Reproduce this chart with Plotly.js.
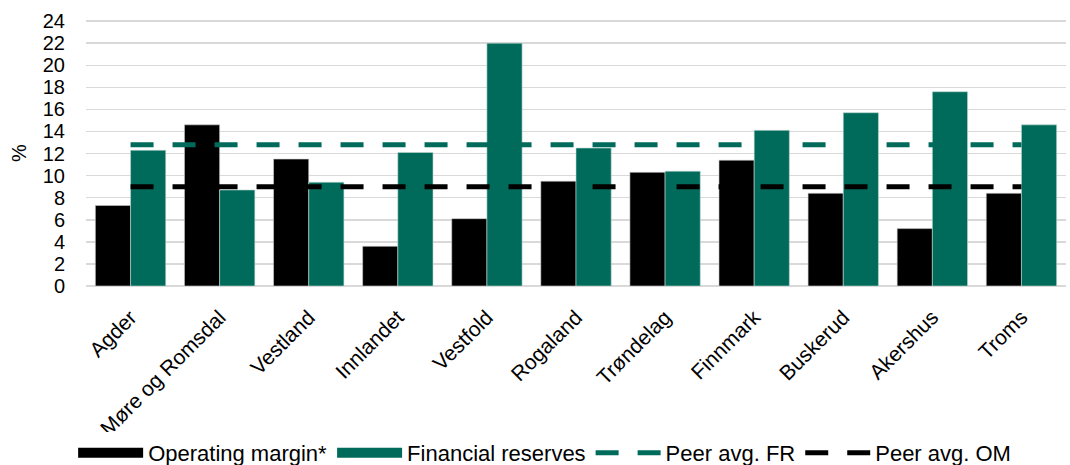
<!DOCTYPE html>
<html>
<head>
<meta charset="utf-8">
<script src="https://cdn.plot.ly/plotly-3.0.1.min.js"></script>
<style>html,body{margin:0;padding:0;background:#fff;}#chart{width:1070px;height:465px;}</style>
</head>
<body>
<div id="chart"></div>
<script>
const categories = ["Agder","Møre og Romsdal","Vestland","Innlandet","Vestfold","Rogaland","Trøndelag","Finnmark","Buskerud","Akershus","Troms"];
const operatingMargin = [7.3, 14.6, 11.5, 3.6, 6.1, 9.5, 10.3, 11.4, 8.4, 5.2, 8.4];
const financialReserves = [12.3, 8.7, 9.4, 12.1, 22.0, 12.5, 10.4, 14.1, 15.7, 17.6, 14.6];
const peerAvgFR = 12.8;
const peerAvgOM = 9.0;
const yTicks = [0,2,4,6,8,10,12,14,16,18,20,22,24];

const BLACK = "#000000";
const TEAL = "#006B5B";
const FONT = "'Liberation Sans', Arial, sans-serif";

const traces = [
  // legend swatches for the bar series
  {type:"scatter", mode:"lines", name:"Operating margin*", x:[null], y:[null],
   line:{color:BLACK, width:14}, legendgroup:"om", showlegend:true},
  {type:"scatter", mode:"lines", name:"Financial reserves", x:[null], y:[null],
   line:{color:TEAL, width:14}, legendgroup:"fr", showlegend:true},
  {type:"bar", name:"Operating margin*", x:categories, y:operatingMargin, showlegend:false,
   legendgroup:"om", marker:{color:BLACK, line:{color:"#cfcfcf", width:0.6}}},
  {type:"bar", name:"Financial reserves", x:categories, y:financialReserves, showlegend:false,
   legendgroup:"fr", marker:{color:TEAL, line:{color:"#bfd8d2", width:0.6}}},
  {type:"scatter", mode:"lines", name:"Peer avg. FR", x:categories, y:categories.map(()=>peerAvgFR),
   line:{color:TEAL, width:5, dash:"23px,19px"}},
  {type:"scatter", mode:"lines", name:"Peer avg. OM", x:categories, y:categories.map(()=>peerAvgOM),
   line:{color:BLACK, width:5, dash:"23px,19px"}}
];

const layout = {
  width:1070, height:465,
  margin:{l:86, r:4, t:20, b:179},
  paper_bgcolor:"#fff", plot_bgcolor:"#fff",
  font:{family:FONT, color:"#000", size:20},
  barmode:"group", bargap:0.21, bargroupgap:0,
  showlegend:true,
  legend:{orientation:"h", xref:"container", yref:"container", x:0.509, xanchor:"center",
          y:0.026, yanchor:"middle", itemwidth:65,
          font:{family:FONT, size:22, color:"#000"}, traceorder:"normal"},
  xaxis:{type:"category", tickangle:-45, tickfont:{family:FONT, size:21, color:"#000"},
         showgrid:false, showline:false, ticks:"", automargin:false, ticklabelstandoff:14},
  yaxis:{range:[0,24.1], tickvals:yTicks, ticktext:yTicks.map(String),
         tickfont:{family:FONT, size:20, color:"#000"}, showgrid:true, gridcolor:"#d9d9d9", gridwidth:1.5,
         zeroline:true, zerolinecolor:"#d9d9d9", zerolinewidth:1.5, showline:false,
         ticks:"", ticklen:0, automargin:false, ticklabelstandoff:20,
         title:{text:"%", font:{family:FONT, size:20, color:"#000"}, standoff:10}}
};

Plotly.newPlot("chart", traces, layout, {staticPlot:true, displayModeBar:false});
</script>
</body>
</html>
